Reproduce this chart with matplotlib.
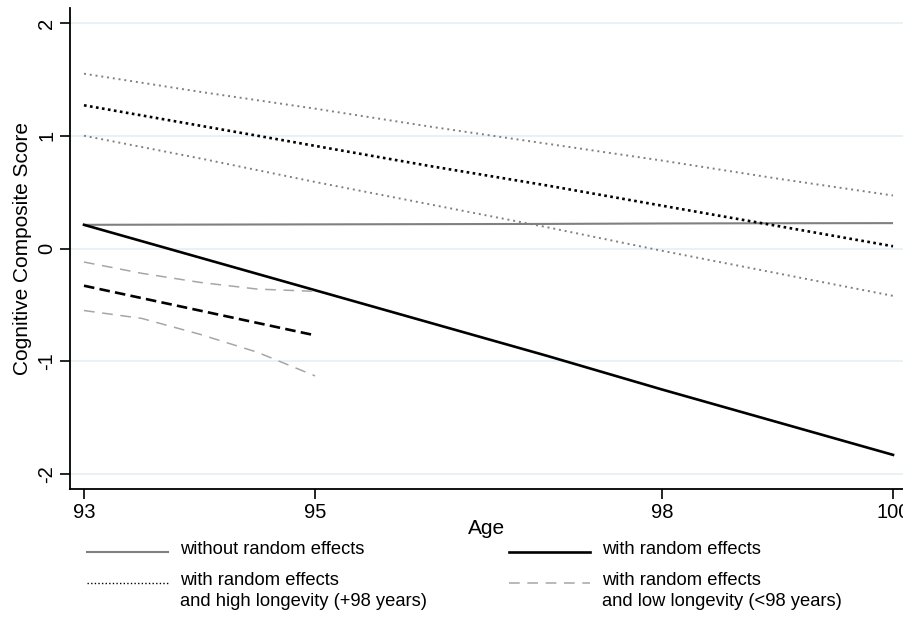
import matplotlib
matplotlib.use("Agg")
import matplotlib.pyplot as plt
from matplotlib.lines import Line2D

plt.rcParams['font.family'] = ['Liberation Sans', 'DejaVu Sans']

# ---- data ----
age_full = [93, 94, 95, 96, 97, 98, 99, 100]
no_re = [0.21, 0.212, 0.214, 0.216, 0.218, 0.222, 0.224, 0.225]
with_re = [0.21, -0.08, -0.37, -0.66, -0.95, -1.25, -1.54, -1.83]
high_mid = [1.27, 1.09, 0.91, 0.73, 0.56, 0.38, 0.20, 0.02]
high_up = [1.55, 1.39, 1.24, 1.08, 0.93, 0.78, 0.62, 0.47]
high_lo = [1.00, 0.80, 0.59, 0.39, 0.19, -0.02, -0.22, -0.42]

age_low = [93, 93.5, 94, 94.5, 95]
low_mid = [-0.33, -0.44, -0.55, -0.66, -0.77]
low_up = [-0.12, -0.22, -0.30, -0.36, -0.38]
low_lo = [-0.55, -0.62, -0.76, -0.92, -1.13]

xticks = [93, 95, 98, 100]
yticks = [-2, -1, 0, 1, 2]

labels = ["without random effects", "with random effects",
          "with random effects\nand high longevity (+98 years)",
          "with random effects\nand low longevity (<98 years)"]

# ---- figure ----
fig = plt.figure(figsize=(9.04, 6.22), dpi=100)
ax = fig.add_axes([70/904, 1-489/622, 1-70/904, (489-8)/622])

grid_c = '#e6f0f5'
for y in yticks:
    ax.axhline(y, color=grid_c, lw=1.3, zorder=0)

gray = '#808080'
lgray = '#a6a6a6'
ax.plot(age_full, no_re, color=gray, lw=1.5, solid_capstyle='butt')
ax.plot(age_full, with_re, color='black', lw=1.9)
ax.plot(age_full, high_up, color=gray, lw=1.4, linestyle=(0, (1, 2)))
ax.plot(age_full, high_lo, color=gray, lw=1.4, linestyle=(0, (1, 2)))
ax.plot(age_full, high_mid, color='black', lw=1.9, linestyle=(0, (1, 1.3)))
ax.plot(age_low, low_up, color=lgray, lw=1.1, linestyle=(0, (7, 5)))
ax.plot(age_low, low_lo, color=lgray, lw=1.1, linestyle=(0, (7, 5)))
ax.plot(age_low, low_mid, color='black', lw=1.9, linestyle=(0, (4, 2)))

ax.set_xlim(93 - 14/115.6, 100 + 11/115.6)
ax.set_ylim(-2 - 15/113, 2 + 15/113)
ax.set_xticks(xticks)
ax.set_yticks(yticks)
ax.set_yticklabels([str(t) for t in yticks], rotation=90, va='center')
ax.tick_params(axis='both', direction='out', length=7, width=1.2, labelsize=14.5, colors='black')
ax.tick_params(axis='x', pad=3)
ax.tick_params(axis='y', pad=3)
for s in ['top', 'right']:
    ax.spines[s].set_visible(False)
for s in ['left', 'bottom']:
    ax.spines[s].set_linewidth(1.3)

ax.set_xlabel("Age", fontsize=15, labelpad=-2)
ax.set_ylabel("Cognitive Composite Score", fontsize=15, labelpad=4)

# ---- legend (manual, Stata-like) ----
fs = 13.2
styles = [dict(color=gray, lw=1.5),
          dict(color='black', lw=1.9),
          dict(color='black', lw=1.0, linestyle=(0, (1, 1.6))),
          dict(color=lgray, lw=1.1, linestyle=(0, (7, 5)))]
pos = [(87, 168, 552), (509, 590, 552), (87, 168, 583), (509, 590, 583)]
for (x0, x1, yy), st, lab in zip(pos, styles, labels):
    fig.add_artist(Line2D([x0/904, x1/904], [1-yy/622, 1-yy/622], **st))
    fig.text((x1+12)/904, 1-(yy-11)/622, lab, fontsize=fs, va='top', ha='left',
             linespacing=1.3)

fig.savefig("out.png", dpi=100)
